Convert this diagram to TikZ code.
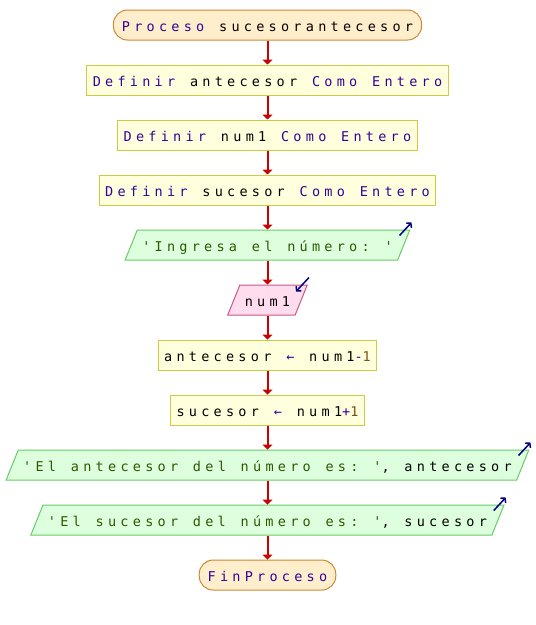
\documentclass[tikz,border=0pt]{standalone}
\usepackage{fontspec}
\setmonofont[LetterSpace=31.5, WordSpace=1.2]{DejaVu Sans Mono}
\usetikzlibrary{positioning,shapes.geometric,arrows.meta}

\definecolor{palabra}{RGB}{51,0,153}
\definecolor{cadena}{RGB}{40,90,0}
\definecolor{numero}{RGB}{128,80,16}
\definecolor{flujo}{RGB}{204,0,0}
\definecolor{azulmarca}{RGB}{0,0,128}
\definecolor{fondoini}{RGB}{255,238,204}
\definecolor{bordeini}{RGB}{204,136,51}
\definecolor{fondoacc}{RGB}{255,255,221}
\definecolor{bordeacc}{RGB}{204,204,68}
\definecolor{fondosal}{RGB}{221,255,221}
\definecolor{bordesal}{RGB}{102,204,102}
\definecolor{fondoent}{RGB}{255,221,238}
\definecolor{bordeent}{RGB}{204,85,136}

\newcommand{\kw}[1]{\textcolor{palabra}{#1}}
\newcommand{\cad}[1]{\textcolor{cadena}{#1}}
\newcommand{\nro}[1]{\textcolor{numero}{#1}}
\newcommand{\letra}{\ttfamily\fontsize{13.5}{16}\selectfont}

\begin{document}
\begin{tikzpicture}[x=1pt, y=-1pt, node distance=24pt,
  caja/.style={font=\letra, line width=1pt,
    text height=17.5pt, text depth=4.5pt, inner ysep=4pt},
  inicio/.style={caja, rectangle, rounded corners=14pt, draw=bordeini, fill=fondoini, inner xsep=8.5pt},
  accion/.style={caja, rectangle, draw=bordeacc, fill=fondoacc, inner xsep=6pt},
  salida/.style={caja, trapezium, trapezium left angle=68, trapezium right angle=112,
    trapezium stretches body, draw=bordesal, fill=fondosal, inner xsep=5pt},
  entrada/.style={salida, draw=bordeent, fill=fondoent},
  flecha/.style={draw=flujo, line width=2pt, -{Triangle[length=5pt,width=10pt]}},
  marca/.style={draw=azulmarca, line width=1.5pt, -{Straight Barb[length=3pt,width=7pt]}}]

\useasboundingbox (0,0) rectangle (536,625);

% Inicio y definiciones
\node[inicio] (proc) at (267.5,25) {\kw{Proceso} sucesorantecesor};
\node[accion, below=of proc] (defant) {\kw{Definir} antecesor \kw{Como Entero}};
\node[accion, below=of defant] (defnum) {\kw{Definir} num1 \kw{Como Entero}};
\node[accion, below=of defnum] (defsuc) {\kw{Definir} sucesor \kw{Como Entero}};

% Lectura
\node[salida, below=of defsuc] (msj) {\cad{'Ingresa el número: '}};
\node[entrada, below=of msj] (leer) {num1};

% Calculos
\node[accion, below=of leer] (asigant) {antecesor \kw{←} num1\kw{-}\nro{1}};
\node[accion, below=of asigant] (asigsuc) {sucesor \kw{←} num1\kw{+}\nro{1}};

% Escritura y fin
\node[salida, below=of asigsuc] (escant) {\cad{'El antecesor del número es: '}, antecesor};
\node[salida, below=of escant] (escsuc) {\cad{'El sucesor del número es: '}, sucesor};
\node[inicio, below=of escsuc] (fin) {\kw{FinProceso}};

% Flujo
\foreach \a/\b in {proc/defant, defant/defnum, defnum/defsuc, defsuc/msj, msj/leer,
  leer/asigant, asigant/asigsuc, asigsuc/escant, escant/escsuc, escsuc/fin}
  \draw[flecha] (\a.south) -- (\b.north);

% Marcas de entrada y salida
\foreach \n in {msj, escant, escsuc}
  \draw[marca] ([shift={(-11,6)}]\n.top right corner) -- ([shift={(1,-7)}]\n.top right corner);
\draw[marca] ([shift={(1,-7)}]leer.top right corner) -- ([shift={(-12,7)}]leer.top right corner);

\end{tikzpicture}
\end{document}
